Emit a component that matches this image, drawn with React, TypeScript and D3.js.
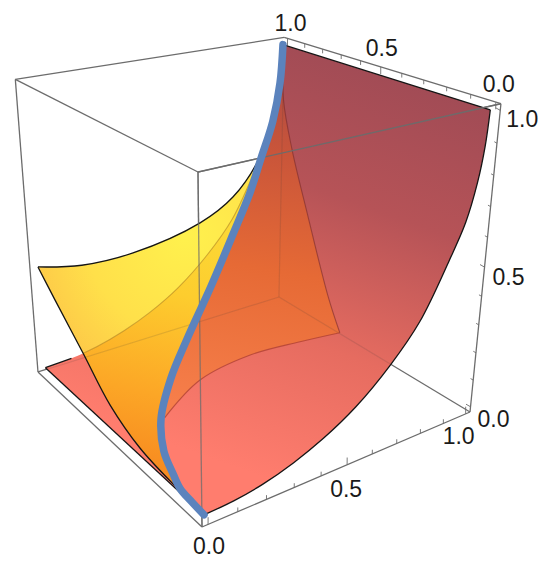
import React from "react";
import * as d3 from "d3";

// values, all in plot units (0..1)
const sheetU = [0, 0.1, 0.2, 0.31, 0.42, 0.54, 0.67, 0.78, 0.884, 0.94, 0.975, 0.993, 1];
const sheetW = [0, 0.005, 0.02, 0.05, 0.093, 0.158, 0.259, 0.374, 0.55, 0.66, 0.78, 0.89, 1];

const blueU = [0, 0.004, 0.01, 0.03, 0.07, 0.15, 0.28, 0.42, 0.6, 0.75, 0.85, 0.91, 0.96, 0.99, 1];
const blueV = [0, 0.07, 0.14, 0.21, 0.33, 0.478, 0.63, 0.75, 0.87, 0.95, 0.985, 1, 1, 1, 1];
const blueW = [0, 0, 0, 0.001, 0.002, 0.011, 0.04, 0.092, 0.2, 0.339, 0.47, 0.59, 0.72, 0.86, 1];

const topU = [0, 0.16, 0.36, 0.64, 0.784, 0.904, 0.961, 0.99, 1];
const topW = [0.383, 0.348, 0.344, 0.393, 0.462, 0.594, 0.737, 0.86, 1];

const sideV = [1, 0.884, 0.7, 0.53, 0.35, 0.14, 0];
const sideW = [0.383, 0.308, 0.194, 0.086, 0.027, 0.006, 0];

const backV = [1, 0.99, 0.932, 0.833, 0.694, 0.62];
const backW = [1, 0.797, 0.622, 0.405, 0.117, 0];

const floorU = [1, 0.837, 0.632, 0.392, 0.17];
const floorV = [0.62, 0.648, 0.67, 0.625, 0.49];

const tickSteps = [0, 0.1, 0.2, 0.3, 0.4, 0.5, 0.6, 0.7, 0.8, 0.9, 1];
const majorTicks = [0, 0.5, 1];
const tickText = ["0.0", "0.5", "1.0"];

type P3 = [number, number, number];
type P2 = [number, number];

// camera fitted to the box corners in the picture
const pad = d3.scaleLinear().domain([0, 1]).range([0.0192, 0.9808]);
const boxProject = (U: number, V: number, W: number): P2 => {
  const d = 1 + 0.181 * U + 0.2557 * V - 0.1338 * W;
  return [
    (202 + 353.07 * U - 154.3 * V - 30.5 * W) / d,
    (527 - 40.4 * U - 59.9 * V - 378 * W) / d,
  ];
};
const project = ([u, v, w]: P3): P2 => boxProject(pad(u), pad(v), pad(w));

const smooth = d3.line<P2>().curve(d3.curveCatmullRom.alpha(0.5));
const open = (pts: P3[]) => smooth(pts.map(project)) as string;
const closed = (...parts: P3[][]) =>
  parts.map((p, i) => (i === 0 ? open(p) : open(p).replace(/^M/, "L"))).join("") + "Z";
const rev = (p: P3[]) => [...p].reverse();

const sheetFront: P3[] = sheetU.map((u, i) => [u, 0, sheetW[i]]);
const sheetBack: P3[] = sheetU.map((u, i) => [u, 1, sheetW[i]]);
const blue: P3[] = blueU.map((u, i) => [u, blueV[i], blueW[i]]);
const top: P3[] = topU.map((u, i) => [u, 1, topW[i]]);
const side: P3[] = sideV.map((v, i) => [0, v, sideW[i]]);
const back: P3[] = backV.map((v, i) => [1, v, backW[i]]);
const floor: P3[] = floorU.map((u, i) => [u, floorV[i], 0]);

const sheetPath = closed(sheetBack, [[1, 1, 1], [1, 0, 1]], rev(sheetFront));
const orangePath = closed(back, floor, blue.filter((d) => d[0] >= 0.15));
const yellowPath = closed(top, rev(blue), rev(side));

const c = (u: number, v: number, w: number) => boxProject(u, v, w);
const A = c(0, 0, 0), B = c(1, 0, 0), G = c(0, 1, 0), H = c(1, 1, 0);
const F = c(0, 0, 1), C = c(1, 0, 1), E = c(0, 1, 1), D = c(1, 1, 1);
const seg = (a: P2, b: P2) => `M${a[0]},${a[1]}L${b[0]},${b[1]}`;

const gray = "#6c6c6c";
const font = "'Liberation Sans', Arial, sans-serif";

type Axis = { pos: (t: number) => P2; dir: P3; off: [P2, P2, P2] };
const axes: Axis[] = [
  { pos: (t) => boxProject(pad(t), 0, 0), dir: [0, 0, 1], off: [[1, 22], [-1, 24], [-7, 22]] },
  { pos: (t) => boxProject(1, pad(t), 1), dir: [0, 0, -1], off: [[3, -18], [1, -19], [3, -15]] },
  { pos: (t) => boxProject(1, 0, pad(t)), dir: [0, 1, 0], off: [[23, 12], [24, 10], [22, 9]] },
];

export default function App() {
  const ctr = boxProject(0.5, 0.5, 0.5);
  const ticks = axes.flatMap((ax, ai) =>
    tickSteps.map((t, ti) => {
      const len = majorTicks.includes(t) ? 0.024 : 0.014;
      const s = ax.pos(t);
      const ref = boxProject(0.5 + ax.dir[0] * len, 0.5 + ax.dir[1] * len, 0.5 + ax.dir[2] * len);
      const end: P2 = [s[0] + ref[0] - ctr[0], s[1] + ref[1] - ctr[1]];
      return <path key={`${ai}-${ti}`} d={seg(s, end)} stroke={gray} strokeWidth={0.9} fill="none" />;
    })
  );
  const labels = axes.flatMap((ax, ai) =>
    majorTicks.map((t, i) => {
      const s = ax.pos(t);
      const o = ax.off[i];
      return (
        <text key={`${ai}-${i}`} x={s[0] + o[0]} y={s[1] + o[1]} textAnchor="middle"
          dominantBaseline="central" fontFamily={font} fontSize={23} fill="#1a1a1a">
          {tickText[i]}
        </text>
      );
    })
  );
  return (
    <svg width={550} height={575} style={{ position: "absolute", left: 0, top: 0 }}>
      <defs>
        <linearGradient id="red" gradientUnits="userSpaceOnUse" x1={420} y1={60} x2={270} y2={480}>
          <stop offset="0" stopColor="#9e4a55" />
          <stop offset="0.35" stopColor="#b65357" />
          <stop offset="0.68" stopColor="#e66c60" />
          <stop offset="1" stopColor="#ff7d6e" />
        </linearGradient>
        <linearGradient id="orange" gradientUnits="userSpaceOnUse" x1={285} y1={50} x2={220} y2={410}>
          <stop offset="0" stopColor="#a84845" />
          <stop offset="0.28" stopColor="#c9553a" />
          <stop offset="0.6" stopColor="#e66a35" />
          <stop offset="1" stopColor="#f67e4a" />
        </linearGradient>
        <radialGradient id="yellow" gradientUnits="userSpaceOnUse" cx={185} cy={235} r={165}>
          <stop offset="0" stopColor="#fff14d" />
          <stop offset="0.6" stopColor="#ffe04a" />
          <stop offset="1" stopColor="#fdc648" />
        </radialGradient>
        <linearGradient id="gold" gradientUnits="userSpaceOnUse" x1={235} y1={200} x2={170} y2={490}>
          <stop offset="0" stopColor="#fbdc38" />
          <stop offset="0.35" stopColor="#fdcd2e" />
          <stop offset="0.7" stopColor="#fca626" />
          <stop offset="1" stopColor="#f6851f" />
        </linearGradient>
        <clipPath id="sheetClip"><path d={sheetPath} /></clipPath>
        <clipPath id="yellowClip"><path d={yellowPath} /></clipPath>
      </defs>

      <g fill="none" stroke={gray} strokeWidth={1.3}>
        <path d={seg(H, B)} /><path d={seg(G, A)} /><path d={seg(A, B)} /><path d={seg(B, C)} />
        <path d={seg(C, D)} /><path d={seg(D, E)} /><path d={seg(E, G)} /><path d={seg(E, F)} />
        <path d={seg(A, F)} /><path d={seg(F, C)} /><path d={seg(G, H)} />
      </g>
      {ticks}

      <path d={sheetPath} fill="url(#red)" />
      <path d={orangePath} fill="url(#orange)" />
      <path d={yellowPath} fill="url(#yellow)" />
      <g clipPath="url(#sheetClip)">
        <path d={yellowPath} fill="url(#gold)" />
        <g fill="none" stroke="#3a3a3a" strokeOpacity={0.14} strokeWidth={1.2}>
          <path d={seg(H, B)} /><path d={seg(H, D)} /><path d={seg(H, G)} />
        </g>
      </g>

      <g fill="none" strokeWidth={1.1}>
        <path d={open(sheetBack)} stroke="#a87a20" strokeOpacity={0.55} clipPath="url(#yellowClip)" />
        <path d={open(back)} stroke="#7a2a2a" strokeOpacity={0.6} />
        <path d={open(floor)} stroke="#a83a30" strokeOpacity={0.7} />
      </g>
      <g fill="none" stroke="#151515" strokeWidth={1.3}>
        <path d={open(sheetFront)} />
        <path d={seg(project([0, 1, 0]), project([0, 0, 0]))} />
        <path d={seg(project([1, 1, 1]), project([1, 0, 1]))} />
        <path d={open(top)} />
        <path d={open(side)} />
        <path d={open(sheetBack.filter((d) => d[0] <= 0.1))} />
      </g>

      <g fill="none" stroke={gray}>
        <path d={seg(F, C)} strokeWidth={1.4} strokeOpacity={0.95} />
        <path d={seg(A, F)} strokeWidth={1.3} strokeOpacity={0.75} />
      </g>

      <path d={open(blue)} fill="none" stroke="#5b83bd" strokeWidth={7.5} strokeLinecap="round" />
      {labels}
    </svg>
  );
}
